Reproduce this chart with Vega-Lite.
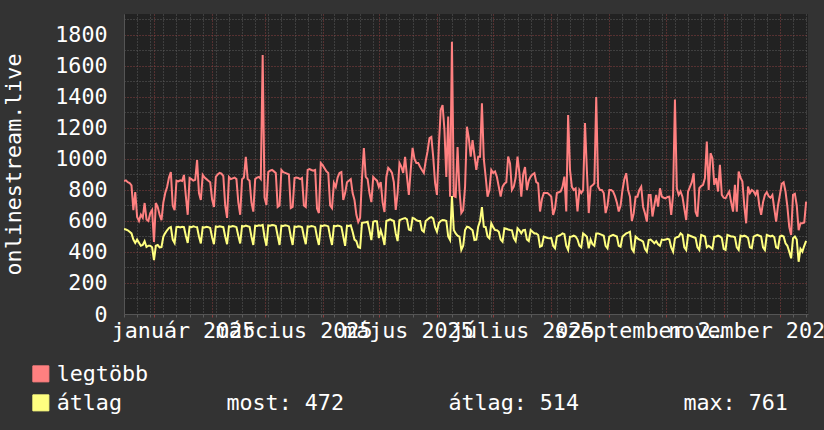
{
"$schema": "https://vega.github.io/schema/vega-lite/v6.json",
"width": 684, "height": 300,
"autosize": {"type": "none"},
"padding": {"left": 124, "top": 14, "right": 16, "bottom": 116},
"background": "#333333",
"config": {"view": {"fill": "#222222", "stroke": null}, "font": "DejaVu Sans Mono"},
"data": {"values": [
{"d":"2024-12-16","legtöbb":858,"átlag":548},{"d":"2024-12-17","legtöbb":862,"átlag":545},{"d":"2024-12-18","legtöbb":850,"átlag":540},{"d":"2024-12-19","legtöbb":845,"átlag":530},{"d":"2024-12-20","legtöbb":830,"átlag":520},{"d":"2024-12-21","legtöbb":670,"átlag":480},{"d":"2024-12-22","legtöbb":787,"átlag":458},
{"d":"2024-12-23","legtöbb":626,"átlag":480},{"d":"2024-12-24","legtöbb":600,"átlag":460},{"d":"2024-12-25","legtöbb":640,"átlag":440},{"d":"2024-12-26","legtöbb":620,"átlag":445},{"d":"2024-12-27","legtöbb":716,"átlag":470},{"d":"2024-12-28","legtöbb":610,"átlag":432},{"d":"2024-12-29","legtöbb":600,"átlag":440},
{"d":"2024-12-30","legtöbb":650,"átlag":440},{"d":"2024-12-31","legtöbb":670,"átlag":430},{"d":"2025-01-01","legtöbb":464,"átlag":348},{"d":"2025-01-02","legtöbb":716,"átlag":440},{"d":"2025-01-03","legtöbb":690,"átlag":445},{"d":"2025-01-04","legtöbb":640,"átlag":430},{"d":"2025-01-05","legtöbb":606,"átlag":432},
{"d":"2025-01-06","legtöbb":720,"átlag":500},{"d":"2025-01-07","legtöbb":780,"átlag":522},{"d":"2025-01-08","legtöbb":819,"átlag":540},{"d":"2025-01-09","legtöbb":880,"átlag":555},{"d":"2025-01-10","legtöbb":915,"átlag":561},{"d":"2025-01-11","legtöbb":700,"átlag":480},{"d":"2025-01-12","legtöbb":670,"átlag":458},
{"d":"2025-01-13","legtöbb":860,"átlag":560},{"d":"2025-01-14","legtöbb":855,"átlag":562},{"d":"2025-01-15","legtöbb":862,"átlag":558},{"d":"2025-01-16","legtöbb":858,"átlag":563},{"d":"2025-01-17","legtöbb":897,"átlag":560},{"d":"2025-01-18","legtöbb":760,"átlag":505},{"d":"2025-01-19","legtöbb":640,"átlag":458},
{"d":"2025-01-20","legtöbb":877,"átlag":563},{"d":"2025-01-21","legtöbb":870,"átlag":560},{"d":"2025-01-22","legtöbb":860,"átlag":565},{"d":"2025-01-23","legtöbb":865,"átlag":562},{"d":"2025-01-24","legtöbb":993,"átlag":560},{"d":"2025-01-25","legtöbb":780,"átlag":500},{"d":"2025-01-26","legtöbb":735,"átlag":455},
{"d":"2025-01-27","legtöbb":897,"átlag":560},{"d":"2025-01-28","legtöbb":880,"átlag":558},{"d":"2025-01-29","legtöbb":870,"átlag":562},{"d":"2025-01-30","legtöbb":860,"átlag":560},{"d":"2025-01-31","legtöbb":850,"átlag":555},{"d":"2025-02-01","legtöbb":740,"átlag":495},{"d":"2025-02-02","legtöbb":690,"átlag":450},
{"d":"2025-02-03","legtöbb":884,"átlag":565},{"d":"2025-02-04","legtöbb":900,"átlag":562},{"d":"2025-02-05","legtöbb":910,"átlag":566},{"d":"2025-02-06","legtöbb":905,"átlag":563},{"d":"2025-02-07","legtöbb":890,"átlag":560},{"d":"2025-02-08","legtöbb":700,"átlag":500},{"d":"2025-02-09","legtöbb":620,"átlag":450},
{"d":"2025-02-10","legtöbb":884,"átlag":565},{"d":"2025-02-11","legtöbb":870,"átlag":563},{"d":"2025-02-12","legtöbb":875,"átlag":567},{"d":"2025-02-13","legtöbb":880,"átlag":565},{"d":"2025-02-14","legtöbb":870,"átlag":560},{"d":"2025-02-15","legtöbb":720,"átlag":505},{"d":"2025-02-16","legtöbb":640,"átlag":455},
{"d":"2025-02-17","legtöbb":870,"átlag":568},{"d":"2025-02-18","legtöbb":880,"átlag":565},{"d":"2025-02-19","legtöbb":1013,"átlag":570},{"d":"2025-02-20","legtöbb":870,"átlag":566},{"d":"2025-02-21","legtöbb":860,"átlag":562},{"d":"2025-02-22","legtöbb":720,"átlag":500},{"d":"2025-02-23","legtöbb":660,"átlag":445},
{"d":"2025-02-24","legtöbb":870,"átlag":570},{"d":"2025-02-25","legtöbb":880,"átlag":568},{"d":"2025-02-26","legtöbb":884,"átlag":572},{"d":"2025-02-27","legtöbb":870,"átlag":570},{"d":"2025-02-28","legtöbb":1670,"átlag":575},{"d":"2025-03-01","legtöbb":750,"átlag":495},{"d":"2025-03-02","legtöbb":703,"átlag":440},
{"d":"2025-03-03","legtöbb":916,"átlag":572},{"d":"2025-03-04","legtöbb":925,"átlag":570},{"d":"2025-03-05","legtöbb":929,"átlag":574},{"d":"2025-03-06","legtöbb":920,"átlag":572},{"d":"2025-03-07","legtöbb":910,"átlag":568},{"d":"2025-03-08","legtöbb":690,"átlag":505},{"d":"2025-03-09","legtöbb":700,"átlag":445},
{"d":"2025-03-10","legtöbb":929,"átlag":570},{"d":"2025-03-11","legtöbb":915,"átlag":568},{"d":"2025-03-12","legtöbb":910,"átlag":572},{"d":"2025-03-13","legtöbb":905,"átlag":570},{"d":"2025-03-14","legtöbb":900,"átlag":565},{"d":"2025-03-15","legtöbb":683,"átlag":500},{"d":"2025-03-16","legtöbb":690,"átlag":445},
{"d":"2025-03-17","legtöbb":877,"átlag":565},{"d":"2025-03-18","legtöbb":880,"átlag":562},{"d":"2025-03-19","legtöbb":877,"átlag":566},{"d":"2025-03-20","legtöbb":870,"átlag":564},{"d":"2025-03-21","legtöbb":877,"átlag":560},{"d":"2025-03-22","legtöbb":700,"átlag":500},{"d":"2025-03-23","legtöbb":690,"átlag":450},
{"d":"2025-03-24","legtöbb":929,"átlag":565},{"d":"2025-03-25","legtöbb":935,"átlag":563},{"d":"2025-03-26","legtöbb":929,"átlag":568},{"d":"2025-03-27","legtöbb":925,"átlag":565},{"d":"2025-03-28","legtöbb":929,"átlag":560},{"d":"2025-03-29","legtöbb":680,"átlag":495},{"d":"2025-03-30","legtöbb":651,"átlag":445},
{"d":"2025-03-31","legtöbb":974,"átlag":570},{"d":"2025-04-01","legtöbb":960,"átlag":568},{"d":"2025-04-02","legtöbb":940,"átlag":572},{"d":"2025-04-03","legtöbb":920,"átlag":570},{"d":"2025-04-04","legtöbb":910,"átlag":565},{"d":"2025-04-05","legtöbb":700,"átlag":500},{"d":"2025-04-06","legtöbb":683,"átlag":445},
{"d":"2025-04-07","legtöbb":845,"átlag":568},{"d":"2025-04-08","legtöbb":819,"átlag":566},{"d":"2025-04-09","legtöbb":880,"átlag":570},{"d":"2025-04-10","legtöbb":910,"átlag":568},{"d":"2025-04-11","legtöbb":916,"átlag":562},{"d":"2025-04-12","legtöbb":735,"átlag":500},{"d":"2025-04-13","legtöbb":780,"átlag":440},
{"d":"2025-04-14","legtöbb":850,"átlag":570},{"d":"2025-04-15","legtöbb":860,"átlag":568},{"d":"2025-04-16","legtöbb":870,"átlag":572},{"d":"2025-04-17","legtöbb":780,"átlag":530},{"d":"2025-04-18","legtöbb":735,"átlag":480},{"d":"2025-04-19","legtöbb":640,"átlag":470},{"d":"2025-04-20","legtöbb":593,"átlag":430},
{"d":"2025-04-21","legtöbb":620,"átlag":426},{"d":"2025-04-22","legtöbb":877,"átlag":587},{"d":"2025-04-23","legtöbb":1071,"átlag":590},{"d":"2025-04-24","legtöbb":884,"átlag":592},{"d":"2025-04-25","legtöbb":870,"átlag":595},{"d":"2025-04-26","legtöbb":780,"átlag":540},{"d":"2025-04-27","legtöbb":722,"átlag":477},
{"d":"2025-04-28","legtöbb":884,"átlag":595},{"d":"2025-04-29","legtöbb":870,"átlag":600},{"d":"2025-04-30","legtöbb":860,"átlag":598},{"d":"2025-05-01","legtöbb":820,"átlag":490},{"d":"2025-05-02","legtöbb":850,"átlag":540},{"d":"2025-05-03","legtöbb":720,"átlag":500},{"d":"2025-05-04","legtöbb":658,"átlag":445},
{"d":"2025-05-05","legtöbb":884,"átlag":600},{"d":"2025-05-06","legtöbb":942,"átlag":605},{"d":"2025-05-07","legtöbb":929,"átlag":610},{"d":"2025-05-08","legtöbb":910,"átlag":605},{"d":"2025-05-09","legtöbb":850,"átlag":600},{"d":"2025-05-10","legtöbb":671,"átlag":520},{"d":"2025-05-11","legtöbb":780,"átlag":470},
{"d":"2025-05-12","legtöbb":974,"átlag":605},{"d":"2025-05-13","legtöbb":950,"átlag":610},{"d":"2025-05-14","legtöbb":910,"átlag":615},{"d":"2025-05-15","legtöbb":1013,"átlag":619},{"d":"2025-05-16","legtöbb":884,"átlag":610},{"d":"2025-05-17","legtöbb":768,"átlag":545},{"d":"2025-05-18","legtöbb":929,"átlag":540},
{"d":"2025-05-19","legtöbb":1071,"átlag":620},{"d":"2025-05-20","legtöbb":1000,"átlag":615},{"d":"2025-05-21","legtöbb":974,"átlag":605},{"d":"2025-05-22","legtöbb":974,"átlag":600},{"d":"2025-05-23","legtöbb":950,"átlag":600},{"d":"2025-05-24","legtöbb":929,"átlag":540},{"d":"2025-05-25","legtöbb":910,"átlag":530},
{"d":"2025-05-26","legtöbb":987,"átlag":600},{"d":"2025-05-27","legtöbb":1050,"átlag":610},{"d":"2025-05-28","legtöbb":1135,"átlag":620},{"d":"2025-05-29","legtöbb":1142,"átlag":625},{"d":"2025-05-30","legtöbb":1013,"átlag":615},{"d":"2025-05-31","legtöbb":845,"átlag":560},{"d":"2025-06-01","legtöbb":768,"átlag":531},
{"d":"2025-06-02","legtöbb":1080,"átlag":587},{"d":"2025-06-03","legtöbb":1316,"átlag":600},{"d":"2025-06-04","legtöbb":1348,"átlag":606},{"d":"2025-06-05","legtöbb":1187,"átlag":605},{"d":"2025-06-06","legtöbb":884,"átlag":600},{"d":"2025-06-07","legtöbb":1273,"átlag":500},{"d":"2025-06-08","legtöbb":757,"átlag":477},
{"d":"2025-06-09","legtöbb":1756,"átlag":761},{"d":"2025-06-10","legtöbb":760,"átlag":542},{"d":"2025-06-11","legtöbb":755,"átlag":520},{"d":"2025-06-12","legtöbb":1077,"átlag":505},{"d":"2025-06-13","legtöbb":800,"átlag":499},{"d":"2025-06-14","legtöbb":651,"átlag":413},{"d":"2025-06-15","legtöbb":670,"átlag":440},
{"d":"2025-06-16","legtöbb":821,"átlag":542},{"d":"2025-06-17","legtöbb":1208,"átlag":563},{"d":"2025-06-18","legtöbb":1135,"átlag":560},{"d":"2025-06-19","legtöbb":1015,"átlag":550},{"d":"2025-06-20","legtöbb":1122,"átlag":540},{"d":"2025-06-21","legtöbb":1025,"átlag":477},{"d":"2025-06-22","legtöbb":929,"átlag":480},
{"d":"2025-06-23","legtöbb":1015,"átlag":563},{"d":"2025-06-24","legtöbb":1015,"átlag":600},{"d":"2025-06-25","legtöbb":1359,"átlag":690},{"d":"2025-06-26","legtöbb":1000,"átlag":563},{"d":"2025-06-27","legtöbb":884,"átlag":560},{"d":"2025-06-28","legtöbb":757,"átlag":500},{"d":"2025-06-29","legtöbb":800,"átlag":488},
{"d":"2025-06-30","legtöbb":929,"átlag":585},{"d":"2025-07-01","legtöbb":910,"átlag":560},{"d":"2025-07-02","legtöbb":920,"átlag":542},{"d":"2025-07-03","legtöbb":884,"átlag":540},{"d":"2025-07-04","legtöbb":820,"átlag":530},{"d":"2025-07-05","legtöbb":757,"átlag":480},{"d":"2025-07-06","legtöbb":821,"átlag":466},
{"d":"2025-07-07","legtöbb":840,"átlag":553},{"d":"2025-07-08","legtöbb":850,"átlag":550},{"d":"2025-07-09","legtöbb":1015,"átlag":545},{"d":"2025-07-10","legtöbb":972,"átlag":542},{"d":"2025-07-11","legtöbb":800,"átlag":540},{"d":"2025-07-12","legtöbb":821,"átlag":490},{"d":"2025-07-13","legtöbb":880,"átlag":470},
{"d":"2025-07-14","legtöbb":1015,"átlag":553},{"d":"2025-07-15","legtöbb":908,"átlag":540},{"d":"2025-07-16","legtöbb":757,"átlag":520},{"d":"2025-07-17","legtöbb":900,"átlag":540},{"d":"2025-07-18","legtöbb":948,"átlag":542},{"d":"2025-07-19","legtöbb":800,"átlag":480},{"d":"2025-07-20","legtöbb":860,"átlag":470},
{"d":"2025-07-21","legtöbb":886,"átlag":542},{"d":"2025-07-22","legtöbb":900,"átlag":530},{"d":"2025-07-23","legtöbb":908,"átlag":520},{"d":"2025-07-24","legtöbb":850,"átlag":520},{"d":"2025-07-25","legtöbb":843,"átlag":510},{"d":"2025-07-26","legtöbb":661,"átlag":434},{"d":"2025-07-27","legtöbb":740,"átlag":440},
{"d":"2025-07-28","legtöbb":780,"átlag":499},{"d":"2025-07-29","legtöbb":780,"átlag":495},{"d":"2025-07-30","legtöbb":780,"átlag":490},{"d":"2025-07-31","legtöbb":770,"átlag":488},{"d":"2025-08-01","legtöbb":757,"átlag":490},{"d":"2025-08-02","legtöbb":639,"átlag":440},{"d":"2025-08-03","legtöbb":680,"átlag":424},
{"d":"2025-08-04","legtöbb":780,"átlag":499},{"d":"2025-08-05","legtöbb":785,"átlag":505},{"d":"2025-08-06","legtöbb":790,"átlag":510},{"d":"2025-08-07","legtöbb":821,"átlag":520},{"d":"2025-08-08","legtöbb":886,"átlag":515},{"d":"2025-08-09","legtöbb":661,"átlag":440},{"d":"2025-08-10","legtöbb":1284,"átlag":413},
{"d":"2025-08-11","legtöbb":929,"átlag":499},{"d":"2025-08-12","legtöbb":820,"átlag":500},{"d":"2025-08-13","legtöbb":800,"átlag":505},{"d":"2025-08-14","legtöbb":810,"átlag":500},{"d":"2025-08-15","legtöbb":661,"átlag":480},{"d":"2025-08-16","legtöbb":800,"átlag":440},{"d":"2025-08-17","legtöbb":780,"átlag":430},
{"d":"2025-08-18","legtöbb":800,"átlag":520},{"d":"2025-08-19","legtöbb":1232,"átlag":510},{"d":"2025-08-20","legtöbb":929,"átlag":499},{"d":"2025-08-21","legtöbb":651,"átlag":424},{"d":"2025-08-22","legtöbb":821,"átlag":480},{"d":"2025-08-23","legtöbb":830,"átlag":450},{"d":"2025-08-24","legtöbb":843,"átlag":440},
{"d":"2025-08-25","legtöbb":1400,"átlag":520},{"d":"2025-08-26","legtöbb":821,"átlag":520},{"d":"2025-08-27","legtöbb":800,"átlag":515},{"d":"2025-08-28","legtöbb":800,"átlag":510},{"d":"2025-08-29","legtöbb":780,"átlag":505},{"d":"2025-08-30","legtöbb":651,"átlag":440},{"d":"2025-08-31","legtöbb":700,"átlag":424},
{"d":"2025-09-01","legtöbb":800,"átlag":499},{"d":"2025-09-02","legtöbb":800,"átlag":505},{"d":"2025-09-03","legtöbb":790,"átlag":510},{"d":"2025-09-04","legtöbb":760,"átlag":505},{"d":"2025-09-05","legtöbb":720,"átlag":500},{"d":"2025-09-06","legtöbb":661,"átlag":440},{"d":"2025-09-07","legtöbb":700,"átlag":434},
{"d":"2025-09-08","legtöbb":800,"átlag":499},{"d":"2025-09-09","legtöbb":870,"átlag":510},{"d":"2025-09-10","legtöbb":908,"átlag":520},{"d":"2025-09-11","legtöbb":800,"átlag":525},{"d":"2025-09-12","legtöbb":757,"átlag":531},{"d":"2025-09-13","legtöbb":600,"átlag":420},{"d":"2025-09-14","legtöbb":650,"átlag":402},
{"d":"2025-09-15","legtöbb":757,"átlag":499},{"d":"2025-09-16","legtöbb":757,"átlag":488},{"d":"2025-09-17","legtöbb":800,"átlag":480},{"d":"2025-09-18","legtöbb":821,"átlag":475},{"d":"2025-09-19","legtöbb":692,"átlag":467},{"d":"2025-09-20","legtöbb":650,"átlag":420},{"d":"2025-09-21","legtöbb":596,"átlag":402},
{"d":"2025-09-22","legtöbb":768,"átlag":477},{"d":"2025-09-23","legtöbb":768,"átlag":480},{"d":"2025-09-24","legtöbb":629,"átlag":470},{"d":"2025-09-25","legtöbb":700,"átlag":456},{"d":"2025-09-26","legtöbb":768,"átlag":470},{"d":"2025-09-27","legtöbb":692,"átlag":450},{"d":"2025-09-28","legtöbb":811,"átlag":440},
{"d":"2025-09-29","legtöbb":757,"átlag":480},{"d":"2025-09-30","legtöbb":750,"átlag":477},{"d":"2025-10-01","legtöbb":746,"átlag":480},{"d":"2025-10-02","legtöbb":755,"átlag":485},{"d":"2025-10-03","legtöbb":757,"átlag":480},{"d":"2025-10-04","legtöbb":639,"átlag":430},{"d":"2025-10-05","legtöbb":768,"átlag":402},
{"d":"2025-10-06","legtöbb":1384,"átlag":488},{"d":"2025-10-07","legtöbb":811,"átlag":495},{"d":"2025-10-08","legtöbb":768,"átlag":499},{"d":"2025-10-09","legtöbb":790,"átlag":520},{"d":"2025-10-10","legtöbb":757,"átlag":510},{"d":"2025-10-11","legtöbb":680,"átlag":430},{"d":"2025-10-12","legtöbb":606,"átlag":413},
{"d":"2025-10-13","legtöbb":790,"átlag":510},{"d":"2025-10-14","legtöbb":820,"átlag":505},{"d":"2025-10-15","legtöbb":850,"átlag":500},{"d":"2025-10-16","legtöbb":908,"átlag":495},{"d":"2025-10-17","legtöbb":660,"átlag":490},{"d":"2025-10-18","legtöbb":628,"átlag":430},{"d":"2025-10-19","legtöbb":811,"átlag":413},
{"d":"2025-10-20","legtöbb":825,"átlag":510},{"d":"2025-10-21","legtöbb":833,"átlag":505},{"d":"2025-10-22","legtöbb":876,"átlag":500},{"d":"2025-10-23","legtöbb":1112,"átlag":430},{"d":"2025-10-24","legtöbb":800,"átlag":440},{"d":"2025-10-25","legtöbb":1037,"átlag":430},{"d":"2025-10-26","legtöbb":1005,"átlag":420},
{"d":"2025-10-27","legtöbb":833,"átlag":499},{"d":"2025-10-28","legtöbb":876,"átlag":500},{"d":"2025-10-29","legtöbb":790,"átlag":505},{"d":"2025-10-30","legtöbb":962,"átlag":500},{"d":"2025-10-31","legtöbb":768,"átlag":490},{"d":"2025-11-01","legtöbb":750,"átlag":420},{"d":"2025-11-02","legtöbb":746,"átlag":413},
{"d":"2025-11-03","legtöbb":770,"átlag":510},{"d":"2025-11-04","legtöbb":790,"átlag":505},{"d":"2025-11-05","legtöbb":720,"átlag":500},{"d":"2025-11-06","legtöbb":660,"átlag":500},{"d":"2025-11-07","legtöbb":833,"átlag":495},{"d":"2025-11-08","legtöbb":660,"átlag":430},{"d":"2025-11-09","legtöbb":919,"átlag":413},
{"d":"2025-11-10","legtöbb":880,"átlag":505},{"d":"2025-11-11","legtöbb":854,"átlag":500},{"d":"2025-11-12","legtöbb":700,"átlag":505},{"d":"2025-11-13","legtöbb":585,"átlag":500},{"d":"2025-11-14","legtöbb":822,"átlag":490},{"d":"2025-11-15","legtöbb":780,"átlag":430},{"d":"2025-11-16","legtöbb":800,"átlag":424},
{"d":"2025-11-17","legtöbb":790,"átlag":499},{"d":"2025-11-18","legtöbb":768,"átlag":505},{"d":"2025-11-19","legtöbb":800,"átlag":510},{"d":"2025-11-20","legtöbb":700,"átlag":505},{"d":"2025-11-21","legtöbb":639,"átlag":500},{"d":"2025-11-22","legtöbb":720,"átlag":430},{"d":"2025-11-23","legtöbb":768,"átlag":413},
{"d":"2025-11-24","legtöbb":785,"átlag":510},{"d":"2025-11-25","legtöbb":760,"átlag":505},{"d":"2025-11-26","legtöbb":750,"átlag":500},{"d":"2025-11-27","legtöbb":768,"átlag":505},{"d":"2025-11-28","legtöbb":680,"átlag":495},{"d":"2025-11-29","legtöbb":596,"átlag":430},{"d":"2025-11-30","legtöbb":700,"átlag":424},
{"d":"2025-12-01","legtöbb":768,"átlag":500},{"d":"2025-12-02","legtöbb":840,"átlag":505},{"d":"2025-12-03","legtöbb":850,"átlag":500},{"d":"2025-12-04","legtöbb":790,"átlag":456},{"d":"2025-12-05","legtöbb":693,"átlag":440},{"d":"2025-12-06","legtöbb":560,"átlag":402},{"d":"2025-12-07","legtöbb":510,"átlag":359},
{"d":"2025-12-08","legtöbb":768,"átlag":488},{"d":"2025-12-09","legtöbb":775,"átlag":499},{"d":"2025-12-10","legtöbb":700,"átlag":480},{"d":"2025-12-11","legtöbb":540,"átlag":337},{"d":"2025-12-12","legtöbb":585,"átlag":420},{"d":"2025-12-13","legtöbb":585,"átlag":402},{"d":"2025-12-14","legtöbb":590,"átlag":440},
{"d":"2025-12-15","legtöbb":725,"átlag":472}
]},
"transform": [{"fold": ["legtöbb", "átlag"], "as": ["series", "value"]}],
"mark": {"type": "line", "strokeWidth": 2, "clip": true, "interpolate": "linear"},
"encoding": {
  "x": {"field": "d", "type": "temporal",
    "scale": {"type": "utc", "domain": [{"year":2024,"month":12,"date":16,"utc":true},{"year":2025,"month":12,"date":16,"utc":true}]},
    "axis": {
      "title": null,
      "values": [
        {"year":2025,"month":1,"date":1,"utc":true},{"year":2025,"month":2,"date":1,"utc":true},{"year":2025,"month":3,"date":1,"utc":true},{"year":2025,"month":4,"date":1,"utc":true},{"year":2025,"month":5,"date":1,"utc":true},{"year":2025,"month":6,"date":1,"utc":true},{"year":2025,"month":7,"date":1,"utc":true},{"year":2025,"month":8,"date":1,"utc":true},{"year":2025,"month":9,"date":1,"utc":true},{"year":2025,"month":10,"date":1,"utc":true},{"year":2025,"month":11,"date":1,"utc":true},{"year":2025,"month":12,"date":1,"utc":true},
        {"year":2024,"month":12,"date":16,"utc":true},{"year":2024,"month":12,"date":23,"utc":true},{"year":2024,"month":12,"date":30,"utc":true},
        {"year":2025,"month":1,"date":6,"utc":true},{"year":2025,"month":1,"date":13,"utc":true},{"year":2025,"month":1,"date":20,"utc":true},{"year":2025,"month":1,"date":27,"utc":true},
        {"year":2025,"month":2,"date":3,"utc":true},{"year":2025,"month":2,"date":10,"utc":true},{"year":2025,"month":2,"date":17,"utc":true},{"year":2025,"month":2,"date":24,"utc":true},
        {"year":2025,"month":3,"date":3,"utc":true},{"year":2025,"month":3,"date":10,"utc":true},{"year":2025,"month":3,"date":17,"utc":true},{"year":2025,"month":3,"date":24,"utc":true},{"year":2025,"month":3,"date":31,"utc":true},
        {"year":2025,"month":4,"date":7,"utc":true},{"year":2025,"month":4,"date":14,"utc":true},{"year":2025,"month":4,"date":21,"utc":true},{"year":2025,"month":4,"date":28,"utc":true},
        {"year":2025,"month":5,"date":5,"utc":true},{"year":2025,"month":5,"date":12,"utc":true},{"year":2025,"month":5,"date":19,"utc":true},{"year":2025,"month":5,"date":26,"utc":true},
        {"year":2025,"month":6,"date":2,"utc":true},{"year":2025,"month":6,"date":9,"utc":true},{"year":2025,"month":6,"date":16,"utc":true},{"year":2025,"month":6,"date":23,"utc":true},{"year":2025,"month":6,"date":30,"utc":true},
        {"year":2025,"month":7,"date":7,"utc":true},{"year":2025,"month":7,"date":14,"utc":true},{"year":2025,"month":7,"date":21,"utc":true},{"year":2025,"month":7,"date":28,"utc":true},
        {"year":2025,"month":8,"date":4,"utc":true},{"year":2025,"month":8,"date":11,"utc":true},{"year":2025,"month":8,"date":18,"utc":true},{"year":2025,"month":8,"date":25,"utc":true},
        {"year":2025,"month":9,"date":8,"utc":true},{"year":2025,"month":9,"date":15,"utc":true},{"year":2025,"month":9,"date":22,"utc":true},{"year":2025,"month":9,"date":29,"utc":true},
        {"year":2025,"month":10,"date":6,"utc":true},{"year":2025,"month":10,"date":13,"utc":true},{"year":2025,"month":10,"date":20,"utc":true},{"year":2025,"month":10,"date":27,"utc":true},
        {"year":2025,"month":11,"date":3,"utc":true},{"year":2025,"month":11,"date":10,"utc":true},{"year":2025,"month":11,"date":17,"utc":true},{"year":2025,"month":11,"date":24,"utc":true},
        {"year":2025,"month":12,"date":8,"utc":true},{"year":2025,"month":12,"date":15,"utc":true},
        {"year":2025,"month":1,"date":16,"hours":12,"utc":true},{"year":2025,"month":3,"date":16,"hours":12,"utc":true},{"year":2025,"month":5,"date":16,"hours":12,"utc":true},{"year":2025,"month":7,"date":16,"hours":12,"utc":true},{"year":2025,"month":9,"date":16,"hours":12,"utc":true},{"year":2025,"month":11,"date":16,"hours":12,"utc":true}
      ],
      "labelExpr": "utchours(datum.value) === 12 ? ['január','február','március','április','május','június','július','augusztus','szeptember','október','november','december'][utcmonth(datum.value)] + ' ' + utcyear(datum.value) : ''",
      "labelOverlap": false, "labelBound": false, "labelFlush": false,
      "labelFont": "DejaVu Sans Mono", "labelFontSize": 21.7, "labelColor": "#ffffff", "labelPadding": 3, "labelAlign": "center",
      "grid": true,
      "gridColor": {"condition": {"test": "utcdate(datum.value) === 1 && utchours(datum.value) === 0", "value": "#8a4040"}, "value": "#5c5c5c"},
      "gridOpacity": {"condition": {"test": "utchours(datum.value) === 12", "value": 0}, "value": 1},
      "gridDash": [1, 2], "gridWidth": 1,
      "ticks": true, "tickSize": 3,
      "tickColor": {"condition": {"test": "utcdate(datum.value) === 1 && utchours(datum.value) === 0", "value": "#8a4040"}, "value": "#5c5c5c"},
      "tickOpacity": {"condition": {"test": "utchours(datum.value) === 12", "value": 0}, "value": 1},
      "domain": true, "domainColor": "#555555"
    }
  },
  "y": {"field": "value", "type": "quantitative",
    "scale": {"domain": [0, 1935], "nice": false, "zero": true},
    "axis": {
      "title": "onlinestream.live", "titleFont": "DejaVu Sans Mono", "titleFontSize": 21.7, "titleFontWeight": "normal", "titleColor": "#ffffff", "titlePadding": 29,
      "values": [0,100,200,300,400,500,600,700,800,900,1000,1100,1200,1300,1400,1500,1600,1700,1800,1900],
      "format": "d",
      "labelExpr": "datum.value % 200 === 0 ? datum.label : ''",
      "labelFont": "DejaVu Sans Mono", "labelFontSize": 21.7, "labelColor": "#ffffff", "labelPadding": 17,
      "ticks": false,
      "grid": true,
      "gridColor": {"condition": {"test": "datum.value % 200 === 0", "value": "#8a4040"}, "value": "#5c5c5c"},
      "gridDash": [1, 2], "gridWidth": 1,
      "domain": true, "domainColor": "#555555"
    }
  },
  "color": {"field": "series", "type": "nominal",
    "scale": {"domain": ["legtöbb", "átlag"], "range": ["#ff8080", "#ffff80"]},
    "legend": {
      "orient": "none", "legendX": -94, "legendY": 349, "title": null, "direction": "vertical",
      "padding": 0, "symbolType": "square", "symbolSize": 256, "symbolStrokeWidth": 1,
      "labelFont": "DejaVu Sans Mono", "labelFontSize": 21.7, "labelColor": "#ffffff", "labelOffset": 5, "labelLimit": 1000, "rowPadding": 6,
      "labelExpr": "datum.label === 'átlag' ? 'átlag\u00a0\u00a0\u00a0\u00a0\u00a0\u00a0\u00a0\u00a0most: 472\u00a0\u00a0\u00a0\u00a0\u00a0\u00a0\u00a0\u00a0átlag: 514\u00a0\u00a0\u00a0\u00a0\u00a0\u00a0\u00a0\u00a0max: 761' : datum.label",
      "encode": {"symbols": {"update": {"fill": {"scale": "color", "field": "value"}, "fillOpacity": {"value": 1}, "stroke": {"value": "#1a1a1a"}, "strokeWidth": {"value": 1}}}}
    }
  }
}
}
